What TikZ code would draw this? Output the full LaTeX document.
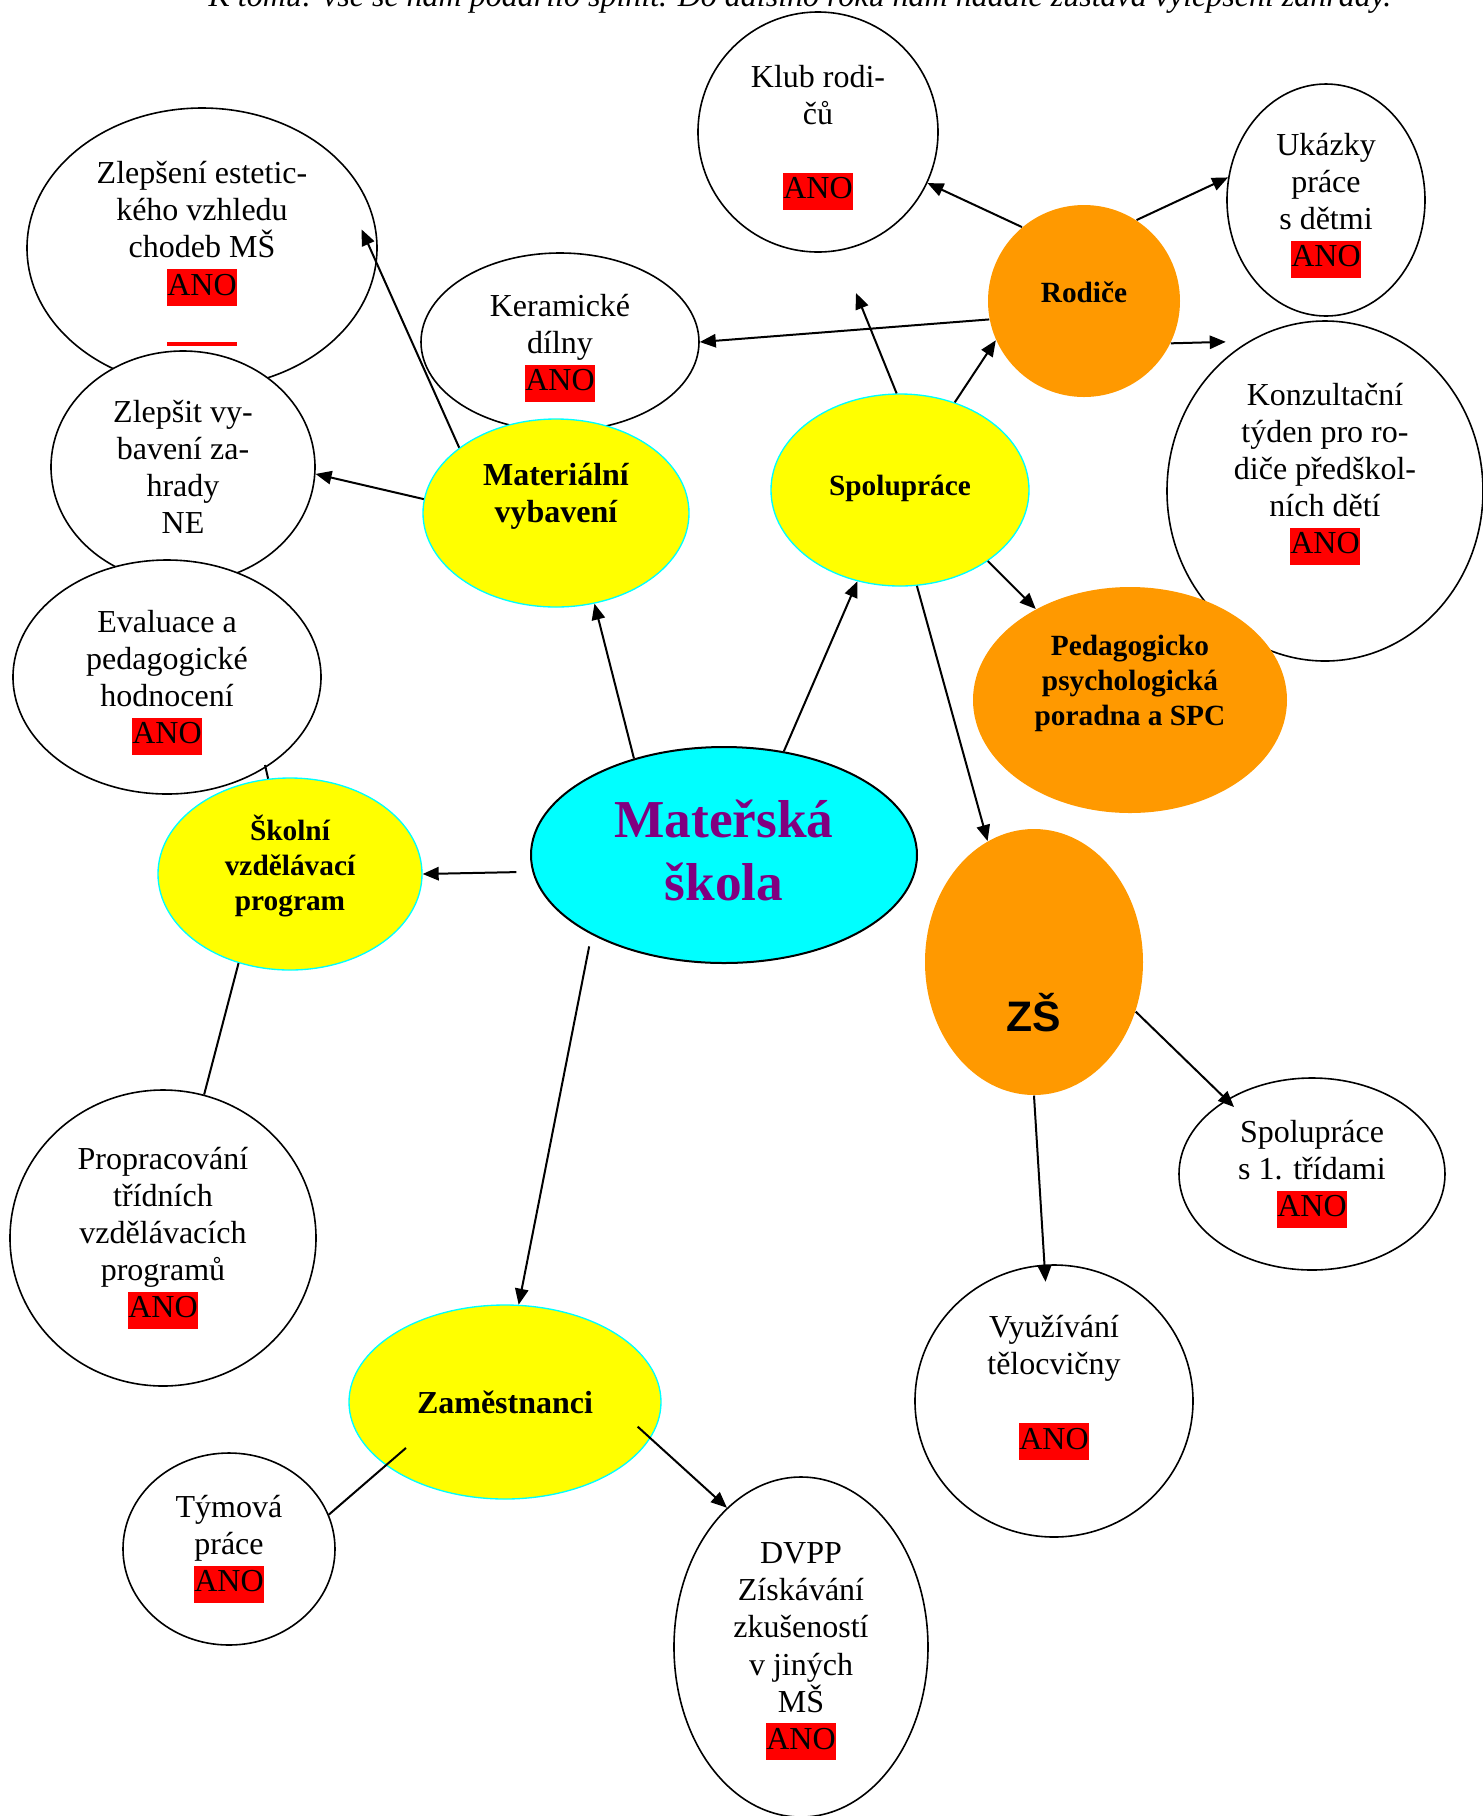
\documentclass[tikz,border=0pt]{standalone}
\usepackage{fontspec}
\setmainfont{Liberation Serif}
\setsansfont{Liberation Sans}
\usetikzlibrary{shapes.geometric,arrows.meta}
\definecolor{msorange}{RGB}{255,153,0}
\definecolor{mspurple}{RGB}{128,0,128}
\definecolor{msyellow}{RGB}{255,255,0}
\definecolor{mscyan}{RGB}{0,255,255}
\definecolor{msred}{RGB}{255,0,0}
\newcommand{\ano}{{\setlength{\fboxsep}{0pt}\colorbox{msred}{\strut ANO}}}
\newcommand{\redbar}{\textcolor{msred}{\rule[-5.25pt]{26.25pt}{1.5pt}}}
\newcommand{\lowpad}[1]{\rule[-#1]{0pt}{#1}}
\newcommand{\highpad}[1]{\rule{0pt}{#1}}

\tikzset{
  idea/.style 2 args={ellipse, draw=black, fill=white, line width=0.6pt,
    minimum width=#1*0.75pt, minimum height=#2*0.75pt, inner sep=0pt,
    align=center, font=\fontsize{12}{13.9}\selectfont},
  topic/.style 2 args={ellipse, draw=mscyan, fill=msyellow, line width=0.5pt,
    minimum width=#1*0.75pt, minimum height=#2*0.75pt, inner sep=0pt,
    align=center, font=\fontsize{12}{13.9}\selectfont\bfseries},
  partner/.style 2 args={ellipse, fill=msorange,
    minimum width=#1*0.75pt, minimum height=#2*0.75pt, inner sep=0pt,
    align=center, font=\fontsize{11}{13.2}\selectfont\bfseries},
  link/.style={-{Triangle[length=6pt,width=5pt]}, line width=0.75pt},
  tie/.style={line width=0.75pt},
}

\begin{document}
\begin{tikzpicture}[x=0.375pt,y=-0.375pt]
\useasboundingbox (0,0) rectangle (1483,1816);

% poznamka nad obrazkem
\node[anchor=base west, inner sep=0pt, font=\fontsize{12}{13.9}\selectfont\itshape] (poznamka) at (208,6)
  {K tomu: vše se nám podařilo splnit. Do dalšího roku nám nadále zůstává vylepšení zahrady.};

% levy horni roh
\node[idea={175}{140}] (zlepseni) at (202,248) {\highpad{12.7pt}Zlepšení estetic-\\kého vzhledu\\chodeb MŠ\\\ano\\\redbar};
\node[idea={132}{116}] (zahrada) at (183,467) {Zlepšit vy-\\bavení za-\\hrady\\NE};
\node[idea={154}{117}] (evaluace) at (167,677) {\highpad{12.7pt}Evaluace a\\pedagogické\\hodnocení\\\ano};
\node[idea={139}{89}] (keramika) at (560,342) {\highpad{12.7pt}Keramické\\dílny\\\ano};
\node[topic={133}{94}] (material) at (556,513) {Materiální\\vybavení\lowpad{15pt}};

% rodice a spoluprace
\node[idea={120}{120}] (klub) at (818,132) {\highpad{12.7pt}Klub rodi-\\čů\\[13.9pt]\ano};
\node[idea={99}{116}] (ukazky) at (1326,200) {\highpad{12.7pt}Ukázky\\práce\\s dětmi\\\ano};
\node[partner={96}{96}] (rodice) at (1084,301) {Rodiče\lowpad{7pt}};
\node[idea={158}{170}] (konzultace) at (1325,491) {Konzultační\\týden pro ro-\\diče předškol-\\ních dětí\\\ano\lowpad{17pt}};
\node[partner={157}{113}] (poradna) at (1130,700) {Pedagogicko\\psychologická\\poradna a SPC\lowpad{14.6pt}};
\node[topic={129}{96}, font=\fontsize{11}{13.2}\selectfont\bfseries] (spoluprace) at (900,490) {Spolupráce\lowpad{3.5pt}};

% stred
\node[ellipse, draw=black, fill=mscyan, line width=0.75pt, minimum width=193*0.75pt, minimum height=108*0.75pt,
  inner sep=0pt, align=center, text=mspurple, font=\fontsize{20}{23.6}\selectfont\bfseries] (ms) at (724,855) {Mateřská\\škola\lowpad{3.6pt}};
\node[topic={132}{96}, font=\fontsize{11}{13.2}\selectfont\bfseries] (svp) at (290,874) {Školní\\vzdělávací\\program\lowpad{8.4pt}};
\node[idea={153}{148}] (tvp) at (163,1238) {Propracování\\třídních\\vzdělávacích\\programů\\\ano};

% zakladni skola
\node[partner={109}{133}, font=\sffamily\bfseries\fontsize{16}{19}\selectfont] (zs) at (1034,962) {\rule{0pt}{52pt}ZŠ};
\node[idea={133}{96}] (tridy) at (1312,1174) {Spolupráce\\s 1. třídami\\\ano};
\node[idea={139}{136}] (telocvicna) at (1054,1401) {Využívání\\tělocvičny\\[13.9pt]\ano\lowpad{14pt}};

% zamestnanci
\node[topic={156}{97}] (zamestnanci) at (505,1402) {Zaměstnanci};
\node[idea={106}{96}] (tym) at (229,1549) {Týmová\\práce\\\ano};
\node[idea={127}{170}] (dvpp) at (801,1647) {\highpad{11.3pt}DVPP\\Získávání\\zkušeností\\v jiných\\MŠ\\\ano};

\coordinate (volny) at (856,293);
\coordinate (evtick) at (265,765);

% spojnice
\draw[link, shorten >=-13.9pt] (material.146) -- (zlepseni.-5);
\draw[link] (material.174) -- (zahrada.-3);
\draw[link] (ms.133) -- (material.-67);
\draw[link] (ms.60) -- (spoluprace.-115);
\draw[link, shorten <=6pt] (ms.185) -- (svp.east);
\draw[link, shorten <=4.5pt] (ms.211) -- (zamestnanci.82);
\draw[link] (spoluprace.58) -- (rodice.204);
\draw[link] (spoluprace.92) -- (volny);
\draw[link] (spoluprace.-39) -- (poradna.136);
\draw[link] (spoluprace.-80) -- (zs.111);
\draw[link] (rodice.130) -- (klub.-25);
\draw[link] (rodice.57) -- (ukazky.167);
\draw[link] (rodice.191) -- (keramika.east);
\draw[link, shorten >=8.6pt] (rodice.-26) -- (konzultace.117);
\draw[link, shorten >=-4pt] (zs.-26) -- (tridy.139);
\draw[link, shorten >=-6.5pt] (zs.south) -- (telocvicna.94);
\draw[tie] (svp.240) -- (tvp.74);
\draw[tie] (svp) -- (evtick);
\draw[tie, shorten <=-10pt] (zamestnanci.208) -- (tym.19);
\draw[link, shorten <=-6.5pt] (zamestnanci.-14) -- (dvpp.118);

\end{tikzpicture}
\end{document}
